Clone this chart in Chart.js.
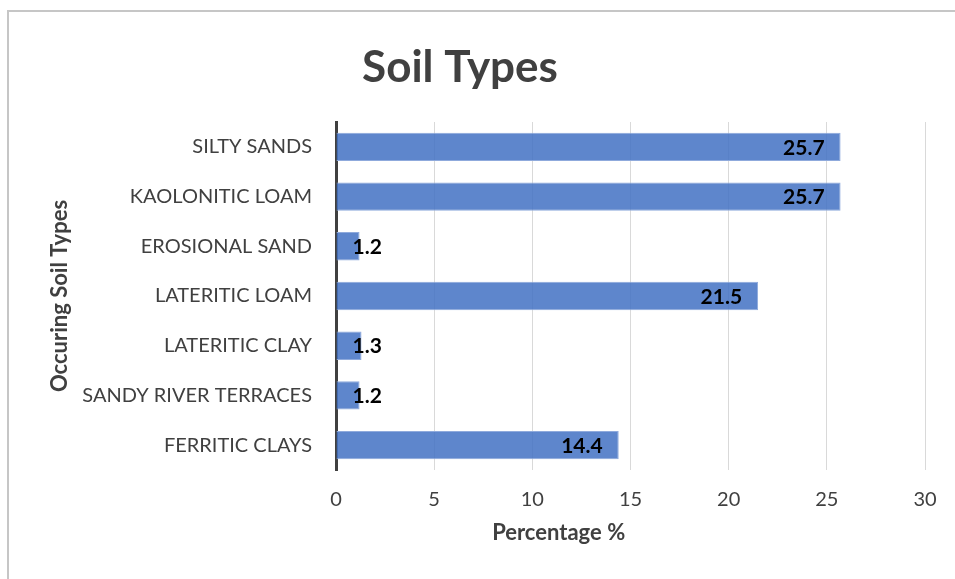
<!DOCTYPE html>
<html>
<head>
<meta charset="utf-8">
<script src="https://cdn.jsdelivr.net/npm/chart.js@4"></script>
<style>
   html, body { margin: 0; padding: 0; background: #ffffff; }
   #chart { display: block; }
</style>
</head>
<body>
<canvas id="chart" width="955" height="579"></canvas>
<script>
/* global Chart */

const soilTypes = [
   "SILTY SANDS",
   "KAOLONITIC LOAM",
   "EROSIONAL SAND",
   "LATERITIC LOAM",
   "LATERITIC CLAY",
   "SANDY RIVER TERRACES",
   "FERRITIC CLAYS",
];
const percentages = [25.7, 25.7, 1.2, 21.5, 1.3, 1.2, 14.4];
const percentMin = 0;
const percentMax = 30;
const percentStep = 5;

const chartTitle = "Soil Types";
const xAxisTitle = "Percentage %";
const yAxisTitle = "Occuring Soil Types";

const FONT = "Lato, 'Open Sans', sans-serif";
const TEXT_COLOR = "#404040";

// frame + titles drawn around the plot, like the office chart
const decorPlugin = {
   id: "decor",
   beforeDraw(chart) {
      const ctx = chart.ctx;
      ctx.save();
      ctx.strokeStyle = "#c6c6c6";
      ctx.lineWidth = 2;
      ctx.beginPath();
      ctx.moveTo(8, chart.height);
      ctx.lineTo(8, 11);
      ctx.lineTo(chart.width, 11);
      ctx.stroke();
      ctx.restore();
   },
   afterDraw(chart) {
      const ctx = chart.ctx;
      const area = chart.chartArea;
      ctx.save();
      ctx.fillStyle = TEXT_COLOR;
      ctx.textAlign = "center";
      ctx.textBaseline = "middle";
      ctx.font = "bold 44px " + FONT;
      ctx.fillText(chartTitle, 460, 68);
      ctx.font = "bold 22px " + FONT;
      ctx.fillText(xAxisTitle, area.left + area.width * 0.378, 533);
      ctx.restore();
   },
};

// value labels at the inside end of each bar
const valueLabelPlugin = {
   id: "valueLabels",
   afterDatasetsDraw(chart) {
      const ctx = chart.ctx;
      const meta = chart.getDatasetMeta(0);
      ctx.save();
      ctx.font = "bold 21px " + FONT;
      ctx.fillStyle = "#000000";
      ctx.textAlign = "right";
      ctx.textBaseline = "middle";
      meta.data.forEach((bar, i) => {
         const text = String(percentages[i]);
         const w = ctx.measureText(text).width;
         const right = Math.max(bar.x - 16, bar.base + 16 + w);
         ctx.fillText(text, right, bar.y + 1);
      });
      ctx.restore();
   },
};

const data = {
   labels: soilTypes,
   datasets: [
      {
         label: "Percentage",
         data: percentages,
         backgroundColor: "rgba(68, 114, 196, 0.86)",
         borderColor: "rgba(143, 170, 220, 1)",
         borderWidth: 1,
         barPercentage: 0.57,
         categoryPercentage: 1,
      },
   ],
};

const config = {
   type: "bar",
   data: data,
   options: {
      indexAxis: "y",
      responsive: false,
      animation: false,
      devicePixelRatio: 1,
      layout: {
         padding: { top: 122, right: 30, bottom: 0, left: 0 },
      },
      plugins: {
         legend: { display: false },
         tooltip: { enabled: false },
         title: { display: false },
      },
      scales: {
         x: {
            min: percentMin,
            max: percentMax,
            ticks: {
               stepSize: percentStep,
               color: TEXT_COLOR,
               padding: 18,
               font: { family: FONT, size: 20 },
            },
            grid: {
               color: "#d9d9d9",
               lineWidth: 1,
               drawTicks: false,
            },
            border: { display: false },
            afterFit(scale) {
               scale.height = 109;
            },
         },
         y: {
            ticks: {
               color: TEXT_COLOR,
               padding: 24,
               font: { family: FONT, size: 20 },
            },
            grid: { display: false, drawTicks: false },
            border: { display: true, color: "#404040", width: 3 },
            title: {
               display: true,
               text: yAxisTitle,
               color: TEXT_COLOR,
               font: { family: FONT, size: 22, weight: "bold" },
               padding: { top: 47, bottom: 0 },
            },
            afterFit(scale) {
               scale.width = 336;
            },
         },
      },
   },
   plugins: [decorPlugin, valueLabelPlugin],
};

new Chart(document.getElementById("chart"), config);
</script>
</body>
</html>
